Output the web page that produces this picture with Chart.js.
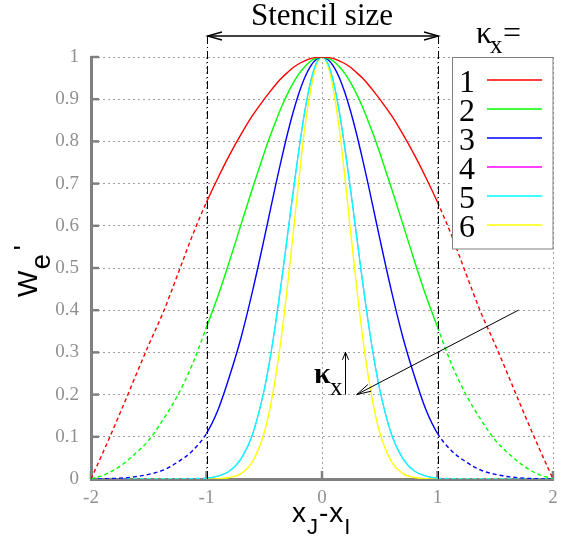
<!DOCTYPE html>
<html>
<head>
<meta charset="utf-8">
<script src="https://cdn.jsdelivr.net/npm/chart.js@4.4.0/dist/chart.umd.min.js"></script>
<style>
  html, body { margin: 0; padding: 0; background: #fff; }
  canvas { display: block; }
</style>
</head>
<body>
<canvas id="weightChart" width="579" height="543"></canvas>
<script>
// sample positions on x_J - x_I (right half; the curves are symmetric about 0)
const xHalf = [0, 0.05, 0.1, 0.15, 0.2, 0.25, 0.3, 0.35, 0.4, 0.45, 0.5, 0.6, 0.7, 0.8, 0.9, 1,
  1.125, 1.25, 1.375, 1.5, 1.625, 1.75, 1.875, 2];

// W_e', one array per kappa_x
const w1 = [1, 0.999, 0.996, 0.991, 0.984, 0.975, 0.963, 0.950, 0.935, 0.918, 0.900, 0.862, 0.817, 0.768, 0.714, 0.656,
  0.575, 0.484, 0.395, 0.318, 0.237, 0.155, 0.076, 0];
const w2 = [1, 0.997, 0.990, 0.977, 0.960, 0.938, 0.912, 0.882, 0.848, 0.812, 0.773, 0.690, 0.604, 0.517, 0.434, 0.360,
  0.270, 0.198, 0.141, 0.092, 0.058, 0.030, 0.011, 0];
const w3 = [1, 0.994, 0.978, 0.951, 0.914, 0.869, 0.817, 0.759, 0.698, 0.634, 0.570, 0.447, 0.336, 0.244, 0.164, 0.108,
  0.066, 0.040, 0.021, 0.011, 0.005, 0.002, 0.0005, 0];
const w4 = [1, 0.985, 0.940, 0.870, 0.780, 0.680, 0.575, 0.470, 0.372, 0.285, 0.212, 0.107, 0.048, 0.019, 0.007, 0.002,
  0.001, 0, 0, 0, 0, 0, 0, 0];
const w5 = [1, 0.985, 0.940, 0.870, 0.780, 0.680, 0.575, 0.470, 0.372, 0.285, 0.212, 0.107, 0.048, 0.019, 0.007, 0.002,
  0.001, 0, 0, 0, 0, 0, 0, 0];
const w6 = [1, 0.980, 0.920, 0.830, 0.710, 0.580, 0.455, 0.340, 0.245, 0.168, 0.110, 0.042, 0.013, 0.0035, 0.001, 0.0002,
  0, 0, 0, 0, 0, 0, 0, 0];

const kappaLabels = ['1', '2', '3', '4', '5', '6'];
const xTicks = [-2, -1, 0, 1, 2];
const yTicks = [0, 0.1, 0.2, 0.3, 0.4, 0.5, 0.6, 0.7, 0.8, 0.9, 1];
const yTickLabels = ['0', '0.1', '0.2', '0.3', '0.4', '0.5', '0.6', '0.7', '0.8', '0.9', '1'];
const stencilEdges = [-1, 1];

const colors = ['#ff0000', '#00ff00', '#0000ff', '#ff00ff', '#00ffff', '#ffff00'];
const SERIF = '"Liberation Serif", "DejaVu Serif", serif';
const SANS = '"Liberation Sans", Arial, sans-serif';

function toPoints(half) {
  const pts = [];
  for (let i = xHalf.length - 1; i > 0; i--) pts.push({ x: -xHalf[i], y: half[i] });
  for (let i = 0; i < xHalf.length; i++) pts.push({ x: xHalf[i], y: half[i] });
  return pts;
}

function makeSet(idx, values) {
  return {
    label: kappaLabels[idx],
    data: toPoints(values),
    borderColor: colors[idx],
    borderWidth: idx === 3 ? 0.8 : 1.4,
    pointRadius: 0,
    fill: false,
    cubicInterpolationMode: 'monotone',
    order: idx === 3 ? 1 : 0, // kappa 4 sits underneath kappa 5
    segment: {
      // outside the stencil the weight is drawn dashed
      borderDash: c => (c.p0.parsed.x >= 1 || c.p1.parsed.x <= -1) ? [4, 3] : undefined
    }
  };
}

function arrowHead(ctx, x1, y1, x2, y2, len, spread) {
  const a = Math.atan2(y2 - y1, x2 - x1);
  ctx.beginPath();
  ctx.moveTo(x2 - len * Math.cos(a - spread), y2 - len * Math.sin(a - spread));
  ctx.lineTo(x2, y2);
  ctx.lineTo(x2 - len * Math.cos(a + spread), y2 - len * Math.sin(a + spread));
  ctx.stroke();
}

const overlay = {
  id: 'overlay',
  beforeDatasetsDraw(chart) {
    const { ctx, scales: { x, y } } = chart;
    // inward tick marks
    ctx.save();
    ctx.strokeStyle = '#808080';
    ctx.lineWidth = 2.5;
    yTicks.forEach(v => {
      const py = y.getPixelForValue(v);
      ctx.beginPath(); ctx.moveTo(x.left, py); ctx.lineTo(x.left + 8, py); ctx.stroke();
    });
    xTicks.forEach(v => {
      const px = x.getPixelForValue(v);
      ctx.beginPath(); ctx.moveTo(px, y.bottom); ctx.lineTo(px, y.bottom - 8); ctx.stroke();
    });
    ctx.restore();
  },
  afterDatasetsDraw(chart) {
    const { ctx, scales: { x, y } } = chart;
    const topY = 36;
    ctx.save();

    // stencil borders (dash-dot)
    ctx.strokeStyle = '#000';
    ctx.lineWidth = 1;
    ctx.setLineDash([8, 3, 1, 3]);
    stencilEdges.forEach(v => {
      const px = Math.round(x.getPixelForValue(v)) + 0.5;
      ctx.beginPath(); ctx.moveTo(px, topY); ctx.lineTo(px, y.bottom); ctx.stroke();
    });
    ctx.setLineDash([]);

    // stencil size double arrow
    const xl = Math.round(x.getPixelForValue(-1)) + 0.5;
    const xr = Math.round(x.getPixelForValue(1)) + 0.5;
    ctx.lineWidth = 1.3;
    ctx.beginPath(); ctx.moveTo(xl, topY); ctx.lineTo(xr, topY); ctx.stroke();
    arrowHead(ctx, xr, topY, xl, topY, 15, 0.27);
    arrowHead(ctx, xl, topY, xr, topY, 15, 0.27);

    ctx.fillStyle = '#000';
    ctx.font = '31px ' + SERIF;
    ctx.textAlign = 'center';
    ctx.textBaseline = 'alphabetic';
    ctx.fillText('Stencil size', x.getPixelForValue(0), 25);

    // kappa arrow annotation
    ctx.lineWidth = 1;
    const ax1 = x.getPixelForValue(1.7), ay1 = y.getPixelForValue(0.4);
    const ax2 = x.getPixelForValue(0.3), ay2 = y.getPixelForValue(0.2);
    ctx.beginPath(); ctx.moveTo(ax1, ay1); ctx.lineTo(ax2, ay2); ctx.stroke();
    arrowHead(ctx, ax1, ay1, ax2, ay2, 15, 0.25);
    const vx = Math.round(x.getPixelForValue(0.2)) + 0.5;
    const vy1 = y.getPixelForValue(0.2), vy2 = y.getPixelForValue(0.3);
    ctx.beginPath(); ctx.moveTo(vx, vy1); ctx.lineTo(vx, vy2); ctx.stroke();
    arrowHead(ctx, vx, vy1, vx, vy2, 8, 0.4);

    ctx.textAlign = 'left';
    ctx.font = 'bold 30px ' + SERIF;
    ctx.fillText('κ', 314, 383);
    ctx.font = '25px ' + SERIF;
    ctx.fillText('x', 330, 395);

    // legend
    const lx = 452.5, ly = 57.5, lw = 100.5, lh = 191.5;
    ctx.fillStyle = '#fff';
    ctx.fillRect(lx, ly, lw, lh);
    ctx.strokeStyle = '#808080';
    ctx.lineWidth = 1;
    ctx.strokeRect(lx, ly, lw, lh);
    ctx.font = '32px ' + SERIF;
    kappaLabels.forEach((lab, i) => {
      const base = 92 + i * 29;
      ctx.fillStyle = '#000';
      ctx.fillText(lab, 459, base);
      ctx.strokeStyle = colors[i];
      ctx.lineWidth = 1.4;
      ctx.beginPath(); ctx.moveTo(487, base - 12); ctx.lineTo(542, base - 12); ctx.stroke();
    });

    // kappa_x = heading
    ctx.fillStyle = '#000';
    ctx.font = '32px ' + SERIF;
    ctx.fillText('κ', 476, 43);
    ctx.font = '25px ' + SERIF;
    ctx.fillText('x', 490, 53);
    ctx.font = '32px ' + SERIF;
    ctx.fillText('=', 503, 43);

    ctx.restore();
  },
  afterDraw(chart) {
    const { ctx } = chart;
    ctx.save();
    ctx.fillStyle = '#000';
    ctx.textBaseline = 'alphabetic';
    ctx.textAlign = 'left';

    // y title: W_e'
    ctx.save();
    ctx.translate(37, 297);
    ctx.rotate(-Math.PI / 2);
    ctx.font = '28px ' + SANS;
    ctx.fillText('W', 0, 0);
    const wW = ctx.measureText('W').width;
    ctx.fillText('e', wW + 1, 13);
    ctx.fillText('\'', wW + 20, -4);
    ctx.restore();

    // x title: x_J - x_I
    let px = 292;
    const parts = [['x', 28, 0], ['J', 22, 12], ['-', 28, 0], ['x', 28, 0], ['I', 22, 12]];
    parts.forEach(([t, size, dy]) => {
      ctx.font = size + 'px ' + SANS;
      ctx.fillText(t, px, 522 + dy);
      px += ctx.measureText(t).width + 1;
    });
    ctx.restore();
  }
};

const datasets = [
  makeSet(0, w1),
  makeSet(1, w2),
  makeSet(2, w3),
  makeSet(3, w4),
  makeSet(4, w5),
  makeSet(5, w6)
];

new Chart(document.getElementById('weightChart'), {
  type: 'line',
  data: { datasets },
  options: {
    responsive: false,
    animation: false,
    devicePixelRatio: 1,
    layout: { padding: { left: 0, top: 57, right: 26, bottom: 0 } },
    plugins: {
      legend: { display: false },
      tooltip: { enabled: false }
    },
    scales: {
      x: {
        type: 'linear',
        min: -2,
        max: 2,
        afterBuildTicks: s => { s.ticks = xTicks.map(v => ({ value: v })); },
        afterFit: s => { s.height = 64; },
        ticks: {
          font: { family: SERIF, size: 19 },
          color: '#909090',
          padding: 8,
          maxRotation: 0,
          callback: v => String(v)
        },
        grid: { color: '#a0a0a0', lineWidth: 1, drawTicks: false },
        border: { display: true, color: '#808080', width: 3, dash: [2, 3] }
      },
      y: {
        type: 'linear',
        min: 0,
        max: 1,
        afterBuildTicks: s => { s.ticks = yTicks.map(v => ({ value: v })); },
        afterFit: s => { s.width = 91; },
        ticks: {
          font: { family: SERIF, size: 19 },
          color: '#909090',
          padding: 12,
          callback: (v, i) => yTickLabels[i]
        },
        grid: { color: '#a0a0a0', lineWidth: 1, drawTicks: false },
        border: { display: true, color: '#808080', width: 3, dash: [2, 3] }
      }
    }
  },
  plugins: [overlay]
});
</script>
</body>
</html>
